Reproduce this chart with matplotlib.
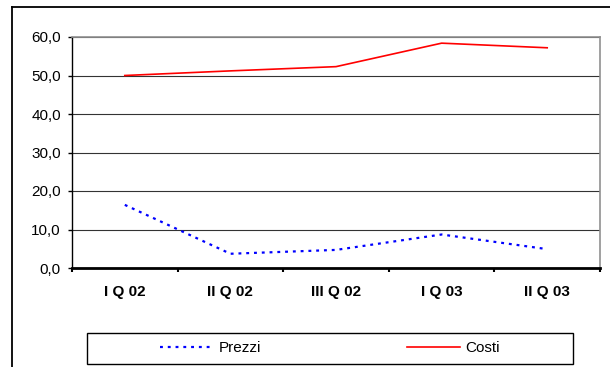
import matplotlib
matplotlib.use("Agg")
import matplotlib.pyplot as plt
from matplotlib.lines import Line2D
from matplotlib.patches import Rectangle
from matplotlib.ticker import FixedLocator, FuncFormatter

plt.rcParams['font.family'] = ['Liberation Sans', 'DejaVu Sans']

categories = ["I Q 02", "II Q 02", "III Q 02", "I Q 03", "II Q 03"]
prezzi = [16.4, 3.7, 4.7, 8.7, 4.9]
costi = [50.0, 51.2, 52.3, 58.4, 57.2]
y_ticks = [0, 10, 20, 30, 40, 50, 60]

W, H = 610, 367
fig = plt.figure(figsize=(W / 100, H / 100), dpi=100)
ax = fig.add_axes([72 / W, 1 - 268 / H, (600 - 72) / W, (268 - 37) / H])

x = list(range(len(categories)))
ax.plot(x, prezzi, color='#0000ff', lw=1.6, linestyle=(0, (1.3, 2.2)), label='Prezzi', zorder=3)
ax.plot(x, costi, color='#ff0000', lw=1.2, label='Costi', zorder=3)

ax.set_xlim(-0.5, len(categories) - 0.5)
ax.set_ylim(0, 60)
ax.yaxis.set_major_locator(FixedLocator(y_ticks))
ax.yaxis.set_major_formatter(FuncFormatter(lambda v, p: f"{v:.1f}".replace('.', ',')))
ax.grid(axis='y', color='#333333', lw=0.8)
ax.set_axisbelow(True)

# category labels centred, tick marks between categories
ax.set_xticks(x)
ax.set_xticklabels(categories, fontweight='bold', fontsize=11)
ax.tick_params(axis='x', which='major', length=0, pad=12)
ax.set_xticks([i - 0.5 for i in range(len(categories) + 1)], minor=True)
ax.tick_params(axis='x', which='minor', length=3, width=1.5, direction='out')
ax.tick_params(axis='y', length=3, width=1, labelsize=11, pad=5)

for s in ['top', 'right']:
    ax.spines[s].set_color('#909090')
    ax.spines[s].set_linewidth(1.2)
ax.spines['left'].set_color('black')
ax.spines['left'].set_linewidth(1.0)
ax.spines['bottom'].set_color('black')
ax.spines['bottom'].set_linewidth(2.0)

# outer chart border (left and top edges)
fig.add_artist(Line2D([12 / W, 12 / W], [0, 1 - 7 / H], color='black', lw=1.3,
                      transform=fig.transFigure))
fig.add_artist(Line2D([12 / W, 1], [1 - 7 / H, 1 - 7 / H], color='black', lw=1.3,
                      transform=fig.transFigure))

# legend box
fig.add_artist(Rectangle((87 / W, 1 - 364 / H), (573 - 87) / W, 31 / H, fill=False,
                         edgecolor='black', lw=1.0, transform=fig.transFigure))
fig.legend(loc='center', bbox_to_anchor=(330 / W, 1 - 348.5 / H), ncol=2, frameon=False,
           fontsize=11, handlelength=3.5, handletextpad=0.33, columnspacing=9.5)

fig.savefig('out.png', dpi=100)
